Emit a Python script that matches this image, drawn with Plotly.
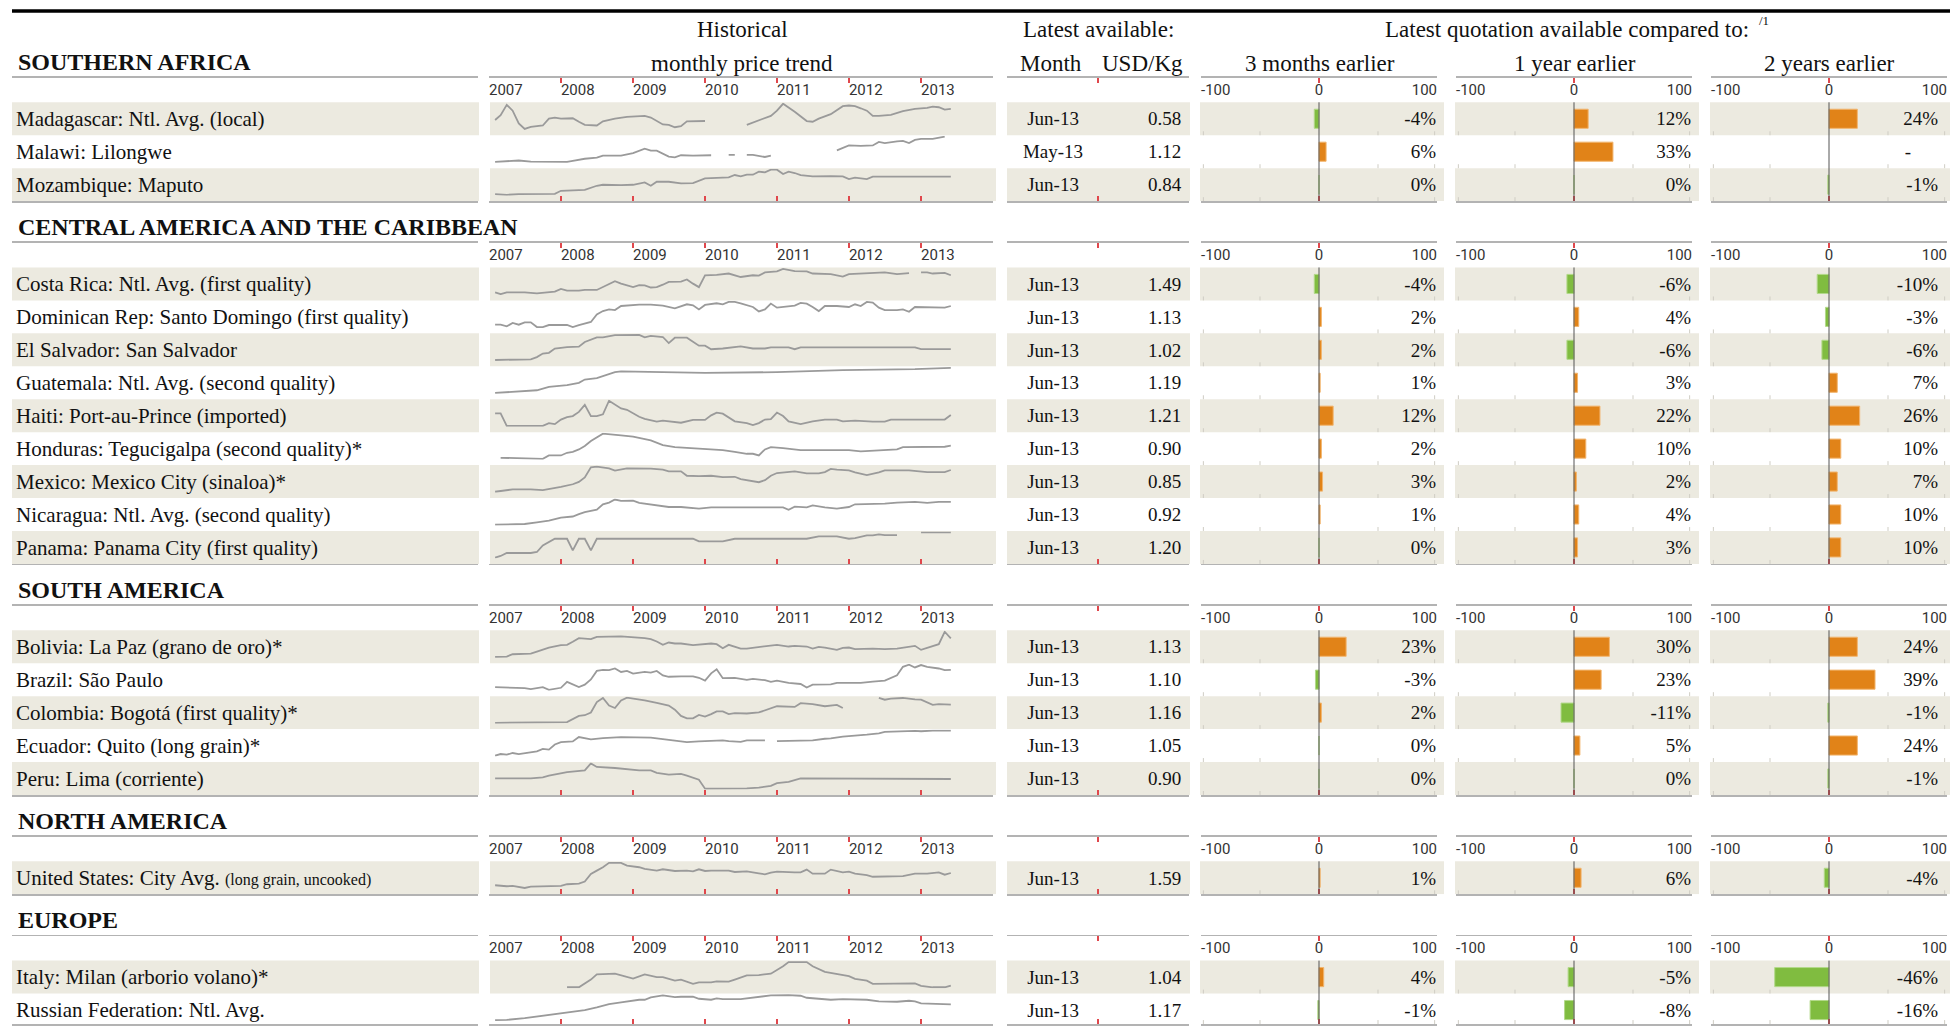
import plotly.graph_objects as go

# ----------------------------------------------------------------------------
# DATA
# ----------------------------------------------------------------------------
SECTIONS = ["SOUTHERN AFRICA", "CENTRAL AMERICA AND THE CARIBBEAN",
            "SOUTH AMERICA", "NORTH AMERICA", "EUROPE"]

MARKETS = [
    ["Madagascar: Ntl. Avg. (local)", "Malawi: Lilongwe", "Mozambique: Maputo"],
    ["Costa Rica: Ntl. Avg. (first quality)",
     "Dominican Rep: Santo Domingo (first quality)",
     "El Salvador: San Salvador",
     "Guatemala: Ntl. Avg. (second quality)",
     "Haiti: Port-au-Prince (imported)",
     "Honduras: Tegucigalpa (second quality)*",
     "Mexico: Mexico City (sinaloa)*",
     "Nicaragua: Ntl. Avg. (second quality)",
     "Panama: Panama City (first quality)"],
    ["Bolivia: La Paz (grano de oro)*", "Brazil: São Paulo",
     "Colombia: Bogotá (first quality)*", "Ecuador: Quito (long grain)*",
     "Peru: Lima (corriente)"],
    ['United States: City Avg. <span style="font-size:16px">(long grain, uncooked)</span>'],
    ["Italy: Milan (arborio volano)*", "Russian Federation: Ntl. Avg."],
]

LATEST_MONTH = [
    ["Jun-13", "May-13", "Jun-13"],
    ["Jun-13"] * 9,
    ["Jun-13"] * 5,
    ["Jun-13"],
    ["Jun-13", "Jun-13"],
]

LATEST_PRICE = [
    ["0.58", "1.12", "0.84"],
    ["1.49", "1.13", "1.02", "1.19", "1.21", "0.90", "0.85", "0.92", "1.20"],
    ["1.13", "1.10", "1.16", "1.05", "0.90"],
    ["1.59"],
    ["1.04", "1.17"],
]

CHANGE_3M = [[-4, 6, 0], [-4, 2, 2, 1, 12, 2, 3, 1, 0], [23, -3, 2, 0, 0], [1], [4, -1]]
CHANGE_1Y = [[12, 33, 0], [-6, 4, -6, 3, 22, 10, 2, 4, 3], [30, 23, -11, 5, 0], [6], [-5, -8]]
CHANGE_2Y = [[24, None, -1], [-10, -3, -6, 7, 26, 10, 7, 10, 10], [24, 39, -1, 24, -1], [-4], [-46, -16]]

YEARS = ["2007", "2008", "2009", "2010", "2011", "2012", "2013", "2014"]

# monthly price trend (relative level read from the sparklines; None = gap)
MADAGASCAR = {"2007-02":45,"2007-03":59,"2007-04":89,"2007-05":72,"2007-06":35,"2007-07":19,"2007-08":25,"2007-10":29,"2007-11":49,"2007-12":52,"2008-01":49,"2008-03":50,"2008-04":40,"2008-05":31,"2008-07":29,"2008-08":41,"2008-10":49,"2008-12":54,"2009-03":57,"2009-04":52,"2009-06":32,"2009-07":31,"2009-08":24,"2009-09":27,"2009-10":41,"2010-01":42,"2010-02":None,"2010-08":31,"2010-10":44,"2010-12":57,"2011-01":72,"2011-02":92,"2011-04":69,"2011-05":57,"2011-06":42,"2011-07":40,"2011-08":49,"2011-10":62,"2011-11":75,"2011-12":85,"2012-01":87,"2012-02":85,"2012-03":79,"2012-04":72,"2012-05":57,"2012-06":57,"2012-08":60,"2012-10":71,"2012-12":77,"2013-02":80,"2013-03":84,"2013-04":82,"2013-05":75,"2013-06":77}
MALAWI = {"2007-02":20,"2007-04":22,"2007-06":24,"2007-08":21,"2007-10":20,"2008-02":20,"2008-03":23,"2008-05":29,"2008-07":32,"2008-08":38,"2008-11":38,"2009-01":45,"2009-03":58,"2009-04":52,"2009-05":52,"2009-07":35,"2009-08":33,"2009-09":39,"2009-11":38,"2010-02":39,"2010-03":None,"2010-05":40,"2010-06":40,"2010-07":None,"2010-08":40,"2010-09":40,"2010-11":34,"2010-12":38,"2011-01":None,"2011-11":53,"2012-01":67,"2012-03":66,"2012-05":67,"2012-06":77,"2012-07":74,"2012-09":79,"2012-10":80,"2012-11":74,"2012-12":83,"2013-01":86,"2013-03":86,"2013-05":92}
MOZAMBIQUE = {"2007-02":20,"2007-04":18,"2007-06":20,"2007-09":21,"2007-12":21,"2008-01":30,"2008-03":32,"2008-05":33,"2008-07":45,"2008-08":48,"2008-11":47,"2009-01":48,"2009-03":55,"2009-04":45,"2009-05":57,"2009-07":57,"2009-09":52,"2009-11":53,"2010-01":67,"2010-04":68,"2010-05":70,"2010-06":77,"2010-07":73,"2010-08":78,"2010-09":78,"2010-10":87,"2010-11":85,"2010-12":93,"2011-01":93,"2011-02":80,"2011-03":87,"2011-04":83,"2011-05":77,"2011-07":73,"2011-09":75,"2011-10":74,"2011-12":73,"2012-01":65,"2012-02":69,"2012-04":65,"2012-05":72,"2012-09":72,"2013-06":72}
COSTA_RICA = {"2007-02":25,"2007-03":20,"2007-04":25,"2007-07":25,"2007-09":22,"2007-11":25,"2007-12":27,"2008-01":35,"2008-02":30,"2008-04":30,"2008-05":32,"2008-07":32,"2008-08":40,"2008-10":57,"2008-11":50,"2008-12":46,"2009-01":40,"2009-02":46,"2009-03":45,"2009-04":39,"2009-05":40,"2009-06":47,"2009-07":55,"2009-09":56,"2009-10":62,"2009-11":50,"2009-12":40,"2010-01":74,"2010-03":75,"2010-05":79,"2010-06":75,"2010-07":69,"2010-09":74,"2010-10":73,"2010-11":82,"2011-01":85,"2011-02":92,"2011-04":86,"2011-06":85,"2011-07":79,"2011-10":77,"2011-12":70,"2012-01":77,"2012-04":79,"2012-07":82,"2012-09":77,"2012-11":80,"2012-12":None,"2013-01":82,"2013-02":82,"2013-03":79,"2013-05":81,"2013-06":74}
DOMINICAN_REP = {"2007-02":25,"2007-03":25,"2007-04":20,"2007-05":30,"2007-06":25,"2007-07":32,"2007-08":32,"2007-09":18,"2007-10":18,"2007-11":24,"2008-02":24,"2008-03":18,"2008-04":24,"2008-06":33,"2008-07":55,"2008-08":65,"2008-09":70,"2008-10":68,"2008-11":80,"2009-02":84,"2009-04":84,"2009-06":81,"2009-08":73,"2009-10":85,"2009-11":82,"2009-12":70,"2010-01":83,"2010-03":88,"2010-04":85,"2010-05":92,"2010-06":92,"2010-07":88,"2010-09":77,"2010-10":64,"2010-11":70,"2010-12":87,"2011-01":75,"2011-03":80,"2011-04":81,"2011-05":89,"2011-06":87,"2011-07":77,"2011-08":65,"2011-09":80,"2011-11":80,"2012-01":77,"2012-02":85,"2012-03":80,"2012-04":92,"2012-05":90,"2012-06":75,"2012-07":68,"2012-08":67,"2012-09":68,"2012-10":70,"2012-11":63,"2012-12":77,"2013-02":77,"2013-05":75,"2013-06":80}
EL_SALVADOR = {"2007-02":20,"2007-06":20,"2007-08":22,"2007-09":28,"2007-10":38,"2007-11":40,"2007-12":52,"2008-02":56,"2008-04":57,"2008-05":70,"2008-07":83,"2008-08":83,"2008-10":89,"2009-02":90,"2009-03":83,"2009-04":87,"2009-06":84,"2009-07":67,"2009-08":82,"2009-10":82,"2009-12":60,"2010-01":60,"2010-02":50,"2010-04":52,"2010-07":58,"2010-09":52,"2010-11":52,"2010-12":55,"2011-03":55,"2011-04":50,"2011-05":55,"2012-12":55,"2013-01":50,"2013-06":50}
GUATEMALA = {"2007-02":18,"2007-09":26,"2007-11":36,"2008-02":41,"2008-04":48,"2008-05":58,"2008-07":62,"2008-10":80,"2008-11":82,"2010-01":78,"2011-01":80,"2011-12":86,"2012-12":89,"2013-06":93}
HAITI = {"2007-02":56,"2007-03":56,"2007-04":20,"2007-10":20,"2007-11":28,"2007-12":25,"2008-01":38,"2008-02":45,"2008-03":48,"2008-04":60,"2008-05":80,"2008-06":48,"2008-07":48,"2008-08":53,"2008-09":92,"2008-11":70,"2008-12":66,"2009-02":46,"2009-03":40,"2009-05":32,"2009-06":35,"2009-09":29,"2009-11":37,"2010-01":37,"2010-02":50,"2010-03":58,"2010-04":55,"2010-06":33,"2010-08":28,"2010-09":22,"2010-10":28,"2010-11":38,"2010-12":39,"2011-01":58,"2011-02":48,"2011-03":33,"2011-05":25,"2011-07":33,"2011-09":38,"2011-11":38,"2011-12":33,"2012-02":35,"2012-05":32,"2012-07":32,"2012-08":38,"2013-05":38,"2013-06":51}
HONDURAS = {"2007-03":21,"2007-08":19,"2007-10":18,"2007-11":28,"2008-01":28,"2008-02":36,"2008-03":39,"2008-04":46,"2008-05":56,"2008-06":71,"2008-07":81,"2008-08":93,"2008-11":88,"2009-01":84,"2009-04":73,"2009-06":59,"2009-08":53,"2009-10":51,"2009-12":48,"2010-01":49,"2010-02":46,"2010-04":44,"2010-06":39,"2010-08":33,"2010-09":33,"2010-10":28,"2010-11":46,"2010-12":53,"2011-02":50,"2011-05":44,"2011-10":44,"2012-01":44,"2012-03":40,"2012-06":44,"2012-09":46,"2012-10":53,"2013-05":54,"2013-06":57}
MEXICO = {"2007-02":19,"2007-04":24,"2007-05":26,"2007-08":26,"2007-10":24,"2008-01":33,"2008-03":41,"2008-04":48,"2008-05":61,"2008-06":91,"2008-07":93,"2008-09":88,"2008-10":81,"2008-12":88,"2009-04":87,"2009-06":84,"2009-07":79,"2009-09":79,"2009-10":66,"2009-12":65,"2010-02":66,"2010-04":62,"2010-06":63,"2010-07":56,"2010-10":47,"2010-11":53,"2010-12":66,"2011-01":74,"2011-03":76,"2011-04":79,"2011-06":73,"2011-08":73,"2011-09":77,"2011-10":86,"2011-11":84,"2012-01":82,"2012-02":76,"2012-04":68,"2012-06":76,"2012-07":82,"2012-11":82,"2013-02":77,"2013-05":77,"2013-06":83}
NICARAGUA = {"2007-02":16,"2007-07":18,"2007-09":23,"2007-11":28,"2008-01":37,"2008-03":40,"2008-04":47,"2008-05":53,"2008-07":60,"2008-08":76,"2008-09":81,"2008-10":90,"2008-11":86,"2009-01":87,"2009-02":80,"2009-04":75,"2009-06":71,"2009-07":68,"2009-09":68,"2009-11":65,"2009-12":63,"2010-02":67,"2010-08":67,"2010-12":65,"2011-02":67,"2011-03":60,"2011-04":69,"2011-06":67,"2011-07":73,"2011-09":67,"2011-11":63,"2012-01":68,"2012-02":76,"2012-07":78,"2012-09":81,"2012-12":83,"2013-02":80,"2013-04":83,"2013-06":83}
PANAMA = {"2007-02":16,"2007-03":21,"2007-04":30,"2007-08":30,"2007-09":33,"2007-10":53,"2007-12":73,"2008-02":73,"2008-03":38,"2008-04":73,"2008-05":73,"2008-06":38,"2008-07":73,"2009-11":73,"2009-12":65,"2010-04":65,"2010-06":73,"2011-06":73,"2011-08":80,"2011-11":80,"2012-01":73,"2012-02":75,"2012-04":83,"2012-05":83,"2012-06":86,"2012-07":84,"2012-09":84,"2012-10":None,"2013-01":92,"2013-06":92}
BOLIVIA = {"2007-02":17,"2007-04":18,"2007-05":25,"2007-08":27,"2007-09":33,"2007-11":45,"2008-01":52,"2008-02":53,"2008-03":62,"2008-04":73,"2008-06":70,"2008-07":77,"2008-11":78,"2008-12":77,"2009-02":74,"2009-03":73,"2009-04":70,"2009-05":63,"2009-06":53,"2009-07":60,"2009-08":57,"2009-09":57,"2009-11":52,"2010-02":57,"2010-03":55,"2010-04":43,"2010-05":53,"2010-07":42,"2010-08":42,"2010-11":48,"2011-01":53,"2011-03":48,"2011-04":50,"2011-06":48,"2011-07":42,"2011-08":47,"2011-09":45,"2011-11":38,"2011-12":44,"2012-01":45,"2012-02":40,"2012-05":42,"2012-07":40,"2012-09":42,"2012-12":50,"2013-01":38,"2013-03":48,"2013-04":55,"2013-05":92,"2013-06":72}
BRAZIL = {"2007-02":28,"2007-05":26,"2007-07":25,"2007-08":22,"2007-10":28,"2007-11":20,"2008-01":26,"2008-02":43,"2008-04":28,"2008-05":35,"2008-06":50,"2008-07":75,"2008-08":78,"2008-09":77,"2008-10":82,"2008-11":72,"2008-12":75,"2009-01":67,"2009-03":72,"2009-04":70,"2009-05":75,"2009-06":62,"2009-07":58,"2009-09":59,"2009-11":59,"2009-12":55,"2010-01":47,"2010-02":68,"2010-03":80,"2010-04":54,"2010-06":55,"2010-08":49,"2010-09":52,"2010-11":48,"2010-12":43,"2011-01":47,"2011-03":40,"2011-05":37,"2011-06":27,"2011-07":35,"2011-10":36,"2011-11":40,"2012-03":40,"2012-05":44,"2012-07":47,"2012-09":62,"2012-10":87,"2012-11":93,"2012-12":85,"2013-01":92,"2013-02":87,"2013-04":82,"2013-05":77,"2013-06":78}
COLOMBIA = {"2007-02":18,"2007-08":20,"2008-02":20,"2008-04":38,"2008-05":40,"2008-06":48,"2008-07":78,"2008-08":90,"2008-09":68,"2008-10":61,"2008-11":83,"2008-12":91,"2009-02":86,"2009-03":83,"2009-05":76,"2009-07":68,"2009-08":56,"2009-09":38,"2009-10":31,"2009-11":31,"2009-12":41,"2010-01":36,"2010-02":43,"2010-03":51,"2010-04":51,"2010-05":43,"2010-06":46,"2010-08":45,"2010-10":48,"2010-12":61,"2011-01":66,"2011-04":64,"2011-05":75,"2011-07":72,"2011-08":68,"2011-09":66,"2011-11":70,"2011-12":61,"2012-01":None,"2012-06":90,"2012-07":85,"2012-08":88,"2012-10":90,"2012-12":86,"2013-01":85,"2013-03":70,"2013-04":72,"2013-06":71}
ECUADOR = {"2007-02":18,"2007-03":23,"2007-04":21,"2007-05":26,"2007-06":23,"2007-08":28,"2007-09":31,"2007-10":38,"2007-11":36,"2007-12":51,"2008-01":58,"2008-03":60,"2008-04":73,"2008-06":66,"2008-08":70,"2008-11":73,"2009-02":71,"2009-04":71,"2009-06":67,"2009-08":63,"2009-10":58,"2009-12":60,"2010-02":61,"2010-04":63,"2010-05":61,"2010-07":59,"2010-08":63,"2010-11":63,"2010-12":None,"2011-01":61,"2011-05":63,"2011-07":63,"2011-09":68,"2011-10":69,"2011-12":74,"2012-02":76,"2012-04":80,"2012-06":84,"2012-07":88,"2012-12":91,"2013-01":90,"2013-03":92,"2013-06":92}
PERU = {"2007-02":49,"2007-08":49,"2007-10":52,"2007-11":57,"2008-02":67,"2008-05":72,"2008-06":92,"2008-07":82,"2008-10":79,"2009-02":72,"2009-04":72,"2009-05":65,"2009-07":60,"2009-09":62,"2009-10":57,"2009-12":45,"2010-01":19,"2010-04":19,"2010-08":20,"2010-10":22,"2010-12":27,"2011-01":35,"2011-03":39,"2011-05":49,"2012-01":49,"2012-06":47,"2013-06":47}
UNITED_STATES = {"2007-02":29,"2007-04":26,"2007-05":27,"2007-07":21,"2007-08":25,"2007-10":25,"2007-11":27,"2007-12":25,"2008-01":27,"2008-02":32,"2008-04":34,"2008-05":40,"2008-06":62,"2008-07":72,"2008-08":82,"2008-09":95,"2008-11":95,"2008-12":87,"2009-02":82,"2009-03":77,"2009-05":72,"2009-06":76,"2009-07":74,"2009-08":71,"2009-10":72,"2009-11":70,"2009-12":76,"2010-01":71,"2010-02":72,"2010-04":73,"2010-05":72,"2010-06":68,"2010-07":69,"2010-08":70,"2010-10":64,"2010-11":61,"2010-12":66,"2011-01":69,"2011-04":67,"2011-05":67,"2011-06":75,"2011-07":63,"2011-09":63,"2011-10":75,"2011-12":67,"2012-01":69,"2012-02":63,"2012-04":59,"2012-05":54,"2012-08":54,"2012-10":56,"2012-12":63,"2013-02":63,"2013-04":67,"2013-05":60,"2013-06":65}
ITALY = {"2008-02":20,"2008-04":20,"2008-06":42,"2008-07":57,"2008-10":59,"2008-11":54,"2009-01":45,"2009-03":57,"2009-05":49,"2009-06":49,"2009-08":39,"2009-09":42,"2009-11":30,"2009-12":34,"2010-02":34,"2010-03":37,"2010-05":36,"2010-06":42,"2010-08":54,"2010-10":55,"2010-12":59,"2011-02":80,"2011-03":92,"2011-06":92,"2011-07":80,"2011-09":64,"2011-11":59,"2012-01":52,"2012-02":44,"2012-04":39,"2012-05":30,"2012-10":30,"2012-12":31,"2013-01":24,"2013-03":20,"2013-05":20,"2013-06":25}
RUSSIA = {"2007-02":17,"2007-04":18,"2007-07":23,"2007-10":30,"2007-12":35,"2008-02":40,"2008-05":47,"2008-07":55,"2008-09":65,"2008-11":70,"2008-12":73,"2009-02":78,"2009-03":78,"2009-04":85,"2009-06":91,"2009-08":86,"2009-09":87,"2009-11":87,"2009-12":81,"2010-02":78,"2010-03":82,"2010-04":80,"2010-07":80,"2010-09":85,"2010-12":91,"2011-03":92,"2011-05":90,"2011-06":84,"2011-09":81,"2011-10":78,"2011-12":80,"2012-02":80,"2012-04":78,"2012-06":73,"2012-09":72,"2012-11":75,"2012-12":73,"2013-01":67,"2013-03":65,"2013-06":64}

TRENDS = [
    [MADAGASCAR, MALAWI, MOZAMBIQUE],
    [COSTA_RICA, DOMINICAN_REP, EL_SALVADOR, GUATEMALA, HAITI, HONDURAS, MEXICO, NICARAGUA, PANAMA],
    [BOLIVIA, BRAZIL, COLOMBIA, ECUADOR, PERU],
    [UNITED_STATES],
    [ITALY, RUSSIA],
]

# ----------------------------------------------------------------------------
# STYLE / GEOMETRY (pixels of a 1950 x 1026 canvas)
# ----------------------------------------------------------------------------
W, H = 1950, 1026
SERIF = "Liberation Serif, Times New Roman, serif"
SANS = "Liberation Sans Narrow, Arial Narrow, Roboto, sans-serif"
TXT = "#111111"
TICKTXT = "#333333"
BEIGE = "#eceae0"
ORANGE = "#e18318"
ORANGE_EDGE = "#f2b56e"
GREEN = "#80bc40"
GREEN_EDGE = "#b3d98a"
SPARK = "#9a9a9a"
LINE = "#b3b3b3"
RED = "#e0474c"
MINOR = "#cfcdc4"

ROW_H = 33.0
FIRST_HEADER = 62.0
HEADER_TO_LINE = 16.0
LINE_TO_ROWS = 24.5
ROWS_TO_HEADER = 26.0
SPARK_TOP_GAP = 1.5
SPARK_BOTTOM_GAP = 6.3
TEXT_DROP = 0.06          # text baseline nudge (rows)

COL_LABEL = (12, 478)
COL_SPARK = (489, 993)
COL_MONTH = (1007, 1189)
PANEL_LEFT0, PANEL_STEP, PANEL_W = 1201, 255, 236
PCT_OFFSET_PX = [1, 1, 9]
DASH_OFFSET_PX = 36
BAR_W = 0.58

BAND_COLS = [(12, 479), (490, 996), (1007, 1190)] + [
    (PANEL_LEFT0 + k * PANEL_STEP - 1, PANEL_LEFT0 + k * PANEL_STEP + PANEL_W + 7) for k in range(3)]


def fx(p):
    return min(max(p / W, 0.0), 1.0)


def fy(p):
    return min(max(1 - p / H, 0.0), 1.0)


def axname(kind, i):
    return f"{kind}axis" + ("" if i == 1 else str(i))


def axref(kind, i):
    return kind + ("" if i == 1 else str(i))


def frame_axis(col, yref, rng, tickvals, typ="linear"):
    return dict(domain=[fx(col[0]), fx(col[1])], anchor=yref, side="top", type=typ,
                range=rng, tickvals=tickvals, ticks="inside", ticklen=5, tickwidth=1.2,
                tickcolor=RED, showline=True, linecolor=LINE, linewidth=1.6,
                mirror="ticks", showticklabels=False, showgrid=False, zeroline=False,
                fixedrange=True)


layout = dict(width=W, height=H, margin=dict(l=0, r=0, t=0, b=0, pad=0),
              paper_bgcolor="white", plot_bgcolor="rgba(0,0,0,0)",
              showlegend=False, barmode="overlay", hovermode=False)
shapes, annotations, traces = [], [], []
nx = ny = 0

# top rule
shapes.append(dict(type="line", xref="paper", yref="paper", x0=fx(12), x1=1,
                   y0=fy(11), y1=fy(11), line=dict(color="black", width=3.5)))


def head(text, x, y, size=23, anchor="center"):
    annotations.append(dict(text=text, x=fx(x), y=fy(y), xref="paper", yref="paper",
                            xanchor=anchor, yanchor="middle", showarrow=False,
                            font=dict(family=SERIF, size=size, color=TXT)))


head("Historical", 742, 29.5)
head("monthly price trend", 742, 63.5)
head("Latest available:", 1098, 29.5)
head("Month", 1051, 63.5)
head("USD/Kg", 1142, 63.5)
head("Latest quotation available compared to:", 1567, 29.5)
head("/1", 1757, 21, size=13, anchor="left")
head("3 months earlier", 1320, 63.5)
head("1 year earlier", 1575, 63.5)
head("2 years earlier", 1829, 63.5)

CHANGES = [CHANGE_3M, CHANGE_1Y, CHANGE_2Y]
year_dates = [f"{y}-01-01" for y in YEARS]

cur = FIRST_HEADER
for s, sec in enumerate(SECTIONS):
    markets = MARKETS[s]
    n = len(markets)
    header = cur
    top = header + HEADER_TO_LINE
    r0 = top + LINE_TO_ROWS
    r1 = r0 + n * ROW_H
    cur = r1 + ROWS_TO_HEADER
    strip = (r0 - top) / ROW_H
    label_y = -0.5 - strip / 2 + 0.03
    rows = list(range(n))
    text_rows = [r + TEXT_DROP for r in rows]

    # frame axis: clip at the canvas bottom if the section runs past it
    bottom_px = min(r1, H)
    low = n - 0.5 - (r1 - bottom_px) / ROW_H
    ny += 1
    yF = axref("y", ny)
    layout[axname("y", ny)] = dict(domain=[fy(bottom_px), fy(top)], range=[low, -0.5 - strip],
                                   visible=False, fixedrange=True)

    annotations.append(dict(text=sec, x=fx(16), y=fy(header), xref="paper", yref="paper",
                            xanchor="left", yanchor="middle", showarrow=False,
                            font=dict(family=SERIF, size=24, color=TXT, weight="bold")))

    for i in range(0, n, 2):
        for a, b in BAND_COLS:
            shapes.append(dict(type="rect", xref="paper", yref=yF, x0=fx(a), x1=fx(b),
                               y0=i - 0.5, y1=min(i + 0.5, low), fillcolor=BEIGE,
                               line=dict(width=0), layer="below"))

    # --- label column
    nx += 1
    xL = axref("x", nx)
    layout[axname("x", nx)] = frame_axis(COL_LABEL, yF, [0, 1], [0, 1])
    traces.append(go.Scatter(x=[4.0 / (COL_LABEL[1] - COL_LABEL[0])] * n, y=text_rows,
                             text=markets, mode="text",
                             textposition="middle right", cliponaxis=False,
                             textfont=dict(family=SERIF, size=21, color=TXT),
                             xaxis=xL, yaxis=yF, hoverinfo="skip"))

    # --- sparkline column
    nx += 1
    xS = axref("x", nx)
    layout[axname("x", nx)] = frame_axis(COL_SPARK, yF, [year_dates[0], year_dates[-1]],
                                         year_dates, typ="date")
    traces.append(go.Scatter(x=year_dates[:-1], y=[label_y] * (len(YEARS) - 1),
                             text=YEARS[:-1], mode="text", textposition="middle right",
                             cliponaxis=False,
                             textfont=dict(family=SANS, size=15, color=TICKTXT),
                             xaxis=xS, yaxis=yF, hoverinfo="skip"))
    spark_px = ROW_H - SPARK_TOP_GAP - SPARK_BOTTOM_GAP
    for i in range(n):
        trend = TRENDS[s][i]
        dates = [d + "-01" for d in trend.keys()]
        vals = list(trend.values())
        valid = [v for v in vals if v is not None]
        lo, hi = min(valid), max(valid)
        pad = (hi - lo) / spark_px
        row_top = r0 + i * ROW_H
        row_bot = row_top + ROW_H
        ny += 1
        layout[axname("y", ny)] = dict(
            domain=[fy(row_bot - SPARK_BOTTOM_GAP + 1), fy(row_top + SPARK_TOP_GAP - 1)],
            range=[lo - pad, hi + pad], visible=False, anchor=xS, fixedrange=True)
        traces.append(go.Scatter(x=dates, y=vals, mode="lines", connectgaps=False,
                                 line=dict(color=SPARK, width=1.8),
                                 xaxis=xS, yaxis=axref("y", ny), hoverinfo="skip"))

    # --- latest month / price column
    nx += 1
    xM = axref("x", nx)
    layout[axname("x", nx)] = frame_axis(COL_MONTH, yF, [0, 1], [0, 0.5, 1])
    traces.append(go.Scatter(x=[0.253] * n, y=text_rows, text=LATEST_MONTH[s], mode="text",
                             textposition="middle center", cliponaxis=False,
                             textfont=dict(family=SERIF, size=19, color=TXT),
                             xaxis=xM, yaxis=yF, hoverinfo="skip"))
    traces.append(go.Scatter(x=[0.958] * n, y=text_rows, text=LATEST_PRICE[s], mode="text",
                             textposition="middle left", cliponaxis=False,
                             textfont=dict(family=SERIF, size=19, color=TXT),
                             xaxis=xM, yaxis=yF, hoverinfo="skip"))

    # --- comparison panels
    for k in range(3):
        L = PANEL_LEFT0 + k * PANEL_STEP
        nx += 1
        xP = axref("x", nx)
        layout[axname("x", nx)] = frame_axis((L, L + PANEL_W), yF, [-100, 100], [-100, 0, 100])
        vals = CHANGES[k][s]
        # faint minor ticks at the foot of every row
        for i in range(n):
            yb = min(i + 0.5, low)
            for t in (-98, -50, 50, 98):
                shapes.append(dict(type="line", xref=xP, yref=yF, x0=t, x1=t,
                                   y0=yb, y1=yb - 0.12, line=dict(color=MINOR, width=1),
                                   layer="below"))
        colors = [ORANGE if (v is not None and v > 0) else GREEN for v in vals]
        edges = [ORANGE_EDGE if (v is not None and v > 0) else GREEN_EDGE for v in vals]
        traces.append(go.Bar(x=vals, y=rows, orientation="h", width=BAR_W,
                             marker=dict(color=colors, line=dict(color=edges, width=1)),
                             xaxis=xP, yaxis=yF, hoverinfo="skip"))
        shapes.append(dict(type="line", xref=xP, yref=yF, x0=0, x1=0, y0=-0.5,
                           y1=min(n - 0.5, low), line=dict(color="#555555", width=1),
                           layer="above"))
        traces.append(go.Scatter(x=[-100, 0, 100], y=[label_y] * 3, text=["-100", "0", "100"],
                                 mode="text",
                                 textposition=["middle right", "middle center", "middle left"],
                                 cliponaxis=False,
                                 textfont=dict(family=SANS, size=15, color=TICKTXT),
                                 xaxis=xP, yaxis=yF, hoverinfo="skip"))
        px_to_val = 200.0 / PANEL_W
        xs = [100 - PCT_OFFSET_PX[k] * px_to_val if v is not None
              else 100 - DASH_OFFSET_PX * px_to_val for v in vals]
        texts = [f"{v}%" if v is not None else "-" for v in vals]
        traces.append(go.Scatter(x=xs, y=text_rows, text=texts, mode="text",
                                 textposition="middle left", cliponaxis=False,
                                 textfont=dict(family=SERIF, size=19, color=TXT),
                                 xaxis=xP, yaxis=yF, hoverinfo="skip"))

layout["shapes"] = shapes
layout["annotations"] = annotations

fig = go.Figure(data=traces, layout=layout)
fig.write_html("out.html", include_plotlyjs=True, full_html=True,
               config={"displayModeBar": False, "staticPlot": True},
               post_script="document.body.style.margin='0';document.body.style.overflow='hidden';")
